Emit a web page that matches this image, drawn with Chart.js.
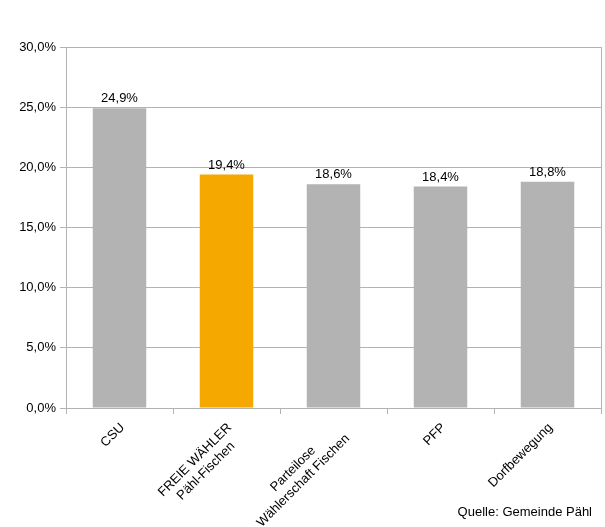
<!DOCTYPE html>
<html>
<head>
<meta charset="utf-8">
<script src="https://cdn.jsdelivr.net/npm/chart.js@4"></script>
<style>
  html, body { margin: 0; padding: 0; background: #fff; }
  #wrap { width: 605px; height: 527px; position: relative; }
</style>
</head>
<body>
<div id="wrap"><canvas id="chart"></canvas></div>
<script>
// Wahlergebnis Pähl - Stimmenanteile
const categories = [
  ['CSU'],
  ['FREIE WÄHLER', 'Pähl-Fischen'],
  ['Parteilose', 'Wählerschaft Fischen'],
  ['PFP'],
  ['Dorfbewegung']
];
const shares = [24.9, 19.4, 18.6, 18.4, 18.8];
const barColors = ['#b3b3b3', '#f5a800', '#b3b3b3', '#b3b3b3', '#b3b3b3'];
const yTicks = [0, 5, 10, 15, 20, 25, 30];
const sourceNote = 'Quelle: Gemeinde Pähl';

const FONT = '"Liberation Sans", Arial, sans-serif';
const GRID = '#b3b3b3';

function pct(v){
  return v.toFixed(1).replace('.', ',') + '%';
}

// centre shorter lines of a multi-line label by padding with spaces
const measureCtx = document.createElement('canvas').getContext('2d');
measureCtx.font = '13px ' + FONT;
function centreLines(lines){
  if (lines.length < 2) return lines[0];
  const w = lines.map(l => measureCtx.measureText(l).width);
  const max = Math.max(...w);
  const sp = measureCtx.measureText(' ').width;
  return lines.map((l, i) => l + ' '.repeat(Math.round((max - w[i]) / 2 / sp)));
}

const valueLabels = {
  id: 'valueLabels',
  afterDatasetsDraw(chart){
    const {ctx} = chart;
    const meta = chart.getDatasetMeta(0);
    ctx.save();
    ctx.font = '13px ' + FONT;
    ctx.fillStyle = '#000';
    ctx.textAlign = 'center';
    ctx.textBaseline = 'bottom';
    meta.data.forEach((bar, i) => {
      ctx.fillText(pct(shares[i]), bar.x, bar.y - 3);
    });
    ctx.restore();
  }
};

const sourceText = {
  id: 'sourceText',
  afterDraw(chart){
    const {ctx} = chart;
    ctx.save();
    ctx.font = '13px ' + FONT;
    ctx.fillStyle = '#000';
    ctx.textAlign = 'right';
    ctx.textBaseline = 'middle';
    ctx.fillText(sourceNote, 592, 512);
    ctx.restore();
  }
};

new Chart(document.getElementById('chart'), {
  type: 'bar',
  data: {
    labels: categories.map(centreLines),
    datasets: [{
      data: shares,
      backgroundColor: barColors,
      borderWidth: 0,
      barPercentage: 0.5,
      categoryPercentage: 1
    }]
  },
  options: {
    responsive: true,
    maintainAspectRatio: false,
    animation: false,
    layout: { padding: { top: 47, right: 4, left: 0, bottom: 0 } },
    plugins: {
      legend: { display: false },
      tooltip: { enabled: false }
    },
    scales: {
      x: {
        grid: {
          offset: true,
          drawOnChartArea: true,
          color: c => c.index === undefined ? GRID : 'rgba(0,0,0,0)',
          tickColor: GRID,
          tickLength: 6
        },
        border: { color: GRID },
        ticks: {
          color: '#000',
          font: { family: FONT, size: 13 },
          minRotation: 45,
          maxRotation: 45,
          autoSkip: false,
          padding: 6,
          labelOffset: 3
        },
        afterFit(scale){ scale.height = 119; }
      },
      y: {
        min: 0,
        max: 30,
        afterBuildTicks(scale){ scale.ticks = yTicks.map(v => ({ value: v })); },
        grid: { color: GRID, tickColor: GRID, tickLength: 6 },
        border: { color: GRID },
        ticks: {
          color: '#000',
          font: { family: FONT, size: 13 },
          padding: 4,
          callback: v => pct(v)
        },
        afterFit(scale){ scale.width = 66; }
      }
    }
  },
  plugins: [valueLabels, sourceText]
});
</script>
</body>
</html>
